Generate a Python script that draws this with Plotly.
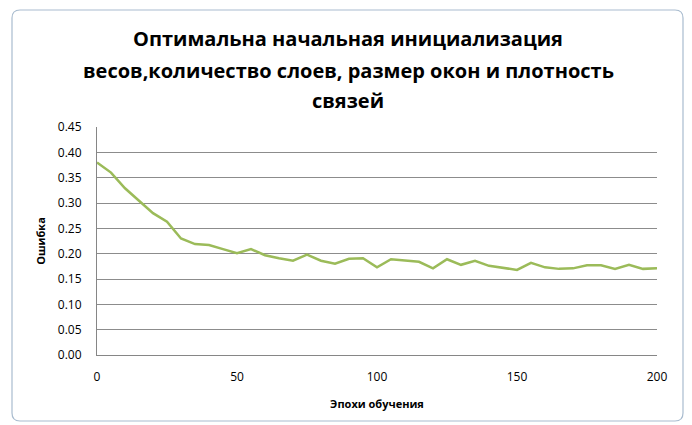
import plotly.graph_objects as go

epochs = list(range(0, 201, 5))
error = [0.380, 0.360, 0.329, 0.305, 0.280, 0.263, 0.230, 0.219, 0.217, 0.209,
         0.201, 0.209, 0.197, 0.191, 0.186, 0.198, 0.186, 0.180, 0.190, 0.191,
         0.173, 0.189, 0.186, 0.184, 0.171, 0.189, 0.178, 0.186, 0.176, 0.172,
         0.168, 0.182, 0.173, 0.170, 0.171, 0.177, 0.177, 0.170, 0.178, 0.170,
         0.171]
y_ticks = [0.0, 0.05, 0.10, 0.15, 0.20, 0.25, 0.30, 0.35, 0.40, 0.45]
x_ticks = [0, 50, 100, 150, 200]

title_lines = ["Оптимальна начальная инициализация",
               "весов,количество слоев, размер окон и плотность",
               "связей"]

W, H = 692, 425
L, R, T, B = 97, 35, 127, 70
PW, PH = W - L - R, H - T - B


def px(x):
    return (x - L) / PW


def py(y):
    return (H - B - y) / PH


font_family = "Open Sans, Noto Sans, sans-serif"

fig = go.Figure()
fig.add_trace(go.Scatter(x=epochs, y=error, mode="lines",
                         line=dict(color="#9BBB59", width=2.5), showlegend=False))

# rounded chart frame
fx0, fx1, fy0, fy1, rr = 12, 683, 10, 421, 8
path = (f"M {px(fx0 + rr)},{py(fy0)} L {px(fx1 - rr)},{py(fy0)} "
        f"Q {px(fx1)},{py(fy0)} {px(fx1)},{py(fy0 + rr)} "
        f"L {px(fx1)},{py(fy1 - rr)} Q {px(fx1)},{py(fy1)} {px(fx1 - rr)},{py(fy1)} "
        f"L {px(fx0 + rr)},{py(fy1)} Q {px(fx0)},{py(fy1)} {px(fx0)},{py(fy1 - rr)} "
        f"L {px(fx0)},{py(fy0 + rr)} Q {px(fx0)},{py(fy0)} {px(fx0 + rr)},{py(fy0)} Z")
fig.add_shape(type="path", xref="paper", yref="paper", path=path,
              line=dict(color="#A9BCCF", width=1.2), fillcolor="rgba(0,0,0,0)", layer="below")

for text, cy in zip(title_lines, [39, 70, 100]):
    fig.add_annotation(text=text, xref="paper", yref="paper", x=px(348), y=py(cy),
                       xanchor="center", yanchor="middle", showarrow=False,
                       font=dict(family=font_family, size=20, color="black", weight="bold"))

fig.update_layout(
    width=W, height=H,
    margin=dict(l=L, r=R, t=T, b=B),
    paper_bgcolor="white", plot_bgcolor="white",
    xaxis=dict(range=[0, 200], tickvals=x_ticks, ticktext=[str(v) for v in x_ticks],
               showgrid=False, showline=True, linecolor="#868686", linewidth=1,
               ticks="", zeroline=False, ticklabelstandoff=11,
               tickfont=dict(family=font_family, size=12, color="black"),
               title=dict(text="Эпохи обучения", standoff=15,
                          font=dict(family=font_family, size=11, color="black", weight="bold"))),
    yaxis=dict(range=[0, 0.45], tickvals=y_ticks, ticktext=[f"{v:.2f}" for v in y_ticks],
               showgrid=True, gridcolor="#8C8C8C", gridwidth=1,
               showline=True, linecolor="#868686", linewidth=1,
               ticks="", zeroline=False, ticklabelstandoff=12,
               tickfont=dict(family=font_family, size=12, color="black"),
               title=dict(text="Ошибка", standoff=9,
                          font=dict(family=font_family, size=11, color="black", weight="bold"))),
)

fig.write_html("out.html")
